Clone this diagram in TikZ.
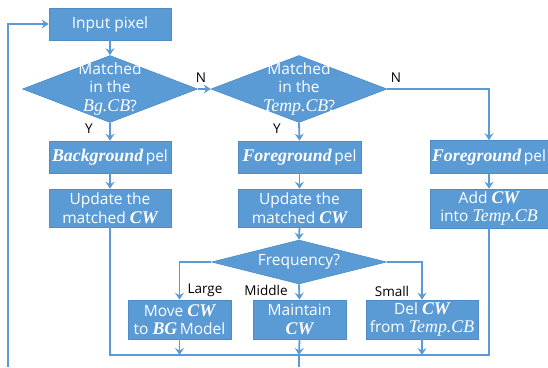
\documentclass[tikz,border=0pt]{standalone}
\usepackage{fontspec}
\setmainfont{Open Sans}
\newfontfamily\serifit[Scale=1.15]{Liberation Serif}
\usetikzlibrary{shapes.geometric,arrows.meta}
\definecolor{flowblue}{HTML}{5B9BD5}
\definecolor{flowedge}{HTML}{4F8CC6}
\newcommand{\sit}[1]{{\serifit\itshape #1}}
\newcommand{\bi}[1]{{\serifit\bfseries\itshape #1}}
\tikzset{
  x=1pt, y=-1pt,
  flowbox/.style={draw=flowedge, line width=0.6pt, fill=flowblue, text=white,
    font=\fontsize{15.5}{18.5}\selectfont, align=center, inner sep=0pt},
  decision/.style={diamond, draw=flowedge, line width=0.6pt, fill=flowblue, inner sep=0pt,
    label={[text=white, font=\fontsize{15.5}{18.5}\selectfont, align=center]center:#1}},
  link/.style={draw=flowblue, line width=1.8pt,
    -{Stealth[length=7pt, width=9pt, inset=2.5pt]}},
  plain/.style={draw=flowblue, line width=1.8pt},
  tag/.style={font=\fontsize{13.5}{15}\selectfont, text=black, inner sep=0pt}
}
\begin{document}
\begin{tikzpicture}
\useasboundingbox (0,0) rectangle (548,367);

% process boxes
\node[flowbox, minimum width=122, minimum height=32] (in) at (110,24) {Input pixel};
\node[flowbox, minimum width=122, minimum height=32] (bg) at (110,157) {\bi{Background}\,pel};
\node[flowbox, minimum width=123, minimum height=32] (fg1) at (299.5,157) {\bi{Foreground}\,pel};
\node[flowbox, minimum width=118, minimum height=33] (fg2) at (489,157) {\bi{Foreground}\,pel};
\node[flowbox, minimum width=122, minimum height=38] (up1) at (110,208) {Update the\\matched \bi{CW}};
\node[flowbox, minimum width=123, minimum height=38] (up2) at (299.5,208) {Update the\\matched \bi{CW}};
\node[flowbox, minimum width=118, minimum height=39] (add) at (489,208.5) {Add \bi{CW}\\into \sit{Temp.CB}};
\node[flowbox, minimum width=103, minimum height=39] (mv) at (179.5,319.5) {Move \bi{CW}\\to \bi{BG}\,Model};
\node[flowbox, minimum width=93, minimum height=39] (mt) at (299.5,319.5) {Maintain\\\bi{CW}};
\node[flowbox, minimum width=112, minimum height=39] (del) at (422,319.5) {Del \bi{CW}\\from \sit{Temp.CB}};

% decisions
\node[decision={Matched\\in the\\\sit{Bg.CB}?}, minimum width=175, minimum height=67] (d1) at (110,89) {};
\node[decision={Matched\\in the\\\sit{Temp.CB}?}, minimum width=176, minimum height=67] (d2) at (299,89) {};
\node[decision={Frequency?}, minimum width=175, minimum height=44] (fq) at (299,262) {};

% junction on the collecting line and loose ends at the lower edge
\coordinate (jn) at (299,355);
\coordinate (out) at (299,367);
\coordinate (back) at (8,367);

% connectors
\draw[link] (in) -- (d1);
\draw[link] (d1.east) -- (d2.west);
\draw[link] (d1.south) -- (bg.north);
\draw[link] (d2.south) -- (fg1.north);
\draw[link] (d2.east) -| (fg2.north);
\draw[link] (bg) -- (up1);
\draw[link] (fg1) -- (up2);
\draw[link] (fg2) -- (add);
\draw[link] (up2.south) -- (fq.north);
\draw[link] (fq.west) -| (mv.north);
\draw[link] (fq.south) -- (mt.north);
\draw[link] (fq.east) -| (del.north);
\draw[plain] (up1.south) |- (jn) -| (add.south);
\draw[link] (mv.south) -- (mv.south |- jn);
\draw[link] (mt.south) -- (jn);
\draw[link] (del.south) -- (del.south |- jn);
\draw[plain] (jn) -- (out);
\draw[link] (back) |- (in.west);

% branch labels
\node[tag] (n1) at (201,78) {N};
\node[tag] (n2) at (396,78) {N};
\node[tag] (y1) at (89,129) {Y};
\node[tag] (y2) at (277,129) {Y};
\node[tag] (lg) at (205,290) {Large};
\node[tag] (md) at (266,290) {Middle};
\node[tag] (sm) at (392,291) {Small};
\end{tikzpicture}
\end{document}
